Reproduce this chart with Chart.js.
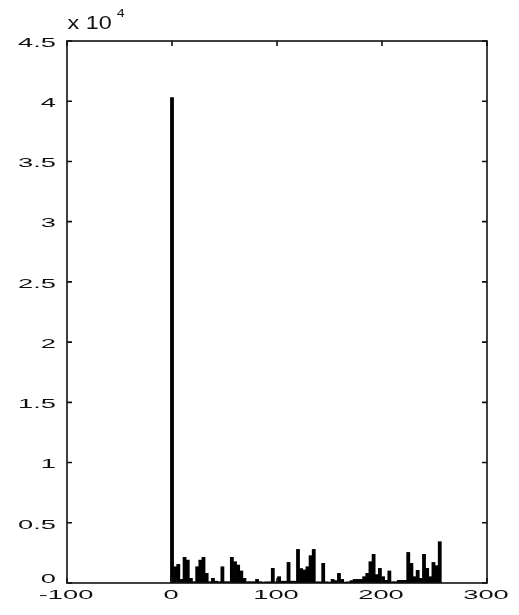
<!DOCTYPE html>
<html>
<head>
<meta charset="utf-8">
<script src="https://cdn.jsdelivr.net/npm/chart.js@4/dist/chart.umd.min.js"></script>
<style>
html,body{margin:0;padding:0;background:#fff;}
canvas{display:block;}
</style>
</head>
<body>
<canvas id="c" width="519" height="615"></canvas>
<script>
// Histogram bin positions (grey level)
const binCenters = [0,3,6,9,12,15,18,21,24,27,30,33,36,39,42,45,48,51,54,57,60,63,66,69,72,75,78,81,84,87,90,93,96,99,102,105,108,111,114,117,120,123,126,129,132,135,138,141,144,147,150,153,156,159,162,165,168,171,174,177,180,183,186,189,192,195,198,201,204,207,210,213,216,219,222,225,228,231,234,237,240,243,246,249,252,255];
// Counts per bin
const binCounts = [40300,1350,1550,300,2130,1900,390,110,1350,1900,2130,800,110,390,150,110,1350,110,110,2130,1770,1490,1000,390,110,110,110,300,110,80,100,100,1215,100,525,150,150,1710,150,150,2790,1200,1080,1350,2270,2790,100,100,1630,100,80,300,200,800,300,80,100,200,300,300,300,525,800,1770,2380,700,1215,525,220,1000,110,110,220,220,220,2540,1630,525,1050,390,2380,1215,525,1710,1440,3430];
// Axis ticks
const xTickValues = [-100,0,100,200,300];
const xTickLabels = ['-100','0','100','200','300'];
const yTickValues = [0,5000,10000,15000,20000,25000,30000,35000,40000,45000];
const yTickLabels = ['0','0.5','1','1.5','2','2.5','3','3.5','4','4.5'];
const exponentBase = 'x 10';
const exponentPower = '4';

const FONT = '"Liberation Sans", Arial, Helvetica, sans-serif';

function stretchText(ctx, text, x, y, size, sx, align) {
  ctx.save();
  ctx.font = size + 'px ' + FONT;
  ctx.textBaseline = 'alphabetic';
  ctx.textAlign = align;
  ctx.translate(x, y);
  ctx.scale(sx, 1);
  ctx.fillText(text, 0, 0);
  ctx.restore();
}

const matlabAxes = {
  id: 'matlabAxes',
  afterDatasetsDraw(chart) {
    const ctx = chart.ctx;
    const a = chart.chartArea;
    const xs = chart.scales.x, ys = chart.scales.y;
    ctx.save();
    ctx.strokeStyle = '#111';
    ctx.lineWidth = 1.6;
    ctx.strokeRect(a.left, a.top, a.right - a.left, a.bottom - a.top);
    const tl = 5;
    ctx.beginPath();
    xTickValues.forEach(v => {
      const px = xs.getPixelForValue(v);
      ctx.moveTo(px, a.bottom); ctx.lineTo(px, a.bottom - tl);
      ctx.moveTo(px, a.top); ctx.lineTo(px, a.top + tl);
    });
    yTickValues.forEach(v => {
      const py = ys.getPixelForValue(v);
      ctx.moveTo(a.left, py); ctx.lineTo(a.left + tl, py);
      ctx.moveTo(a.right, py); ctx.lineTo(a.right - tl, py);
    });
    ctx.stroke();
    ctx.fillStyle = '#111';
    xTickValues.forEach((v, i) => {
      const px = xs.getPixelForValue(v) - 1;
      stretchText(ctx, xTickLabels[i], px, a.bottom + 15.5, 13, 2.1, 'center');
    });
    yTickValues.forEach((v, i) => {
      const py = ys.getPixelForValue(v);
      const by = v === 0 ? py - 0.5 : py + 5.8;
      stretchText(ctx, yTickLabels[i], a.left - 11, by, 13, 2.1, 'right');
    });
    stretchText(ctx, exponentBase, a.left + 0.5, 29.3, 18, 1.3, 'left');
    ctx.save();
    ctx.font = '18px ' + FONT;
    const w = ctx.measureText(exponentBase).width * 1.3;
    ctx.restore();
    stretchText(ctx, exponentPower, a.left + 0.5 + w + 5, 16.7, 11, 1.3, 'left');
    ctx.restore();
  }
};

new Chart(document.getElementById('c'), {
  type: 'bar',
  data: {
    datasets: [{
      data: binCenters.map((x, i) => ({ x: x, y: binCounts[i] })),
      backgroundColor: '#000',
      borderWidth: 0,
      barPercentage: 1,
      categoryPercentage: 1
    }]
  },
  options: {
    responsive: false,
    animation: false,
    devicePixelRatio: 1,
    layout: { padding: { left: 67, right: 32, top: 41, bottom: 32 } },
    plugins: { legend: { display: false }, tooltip: { enabled: false } },
    scales: {
      x: { type: 'linear', display: false, min: -100, max: 300, offset: false },
      y: { type: 'linear', display: false, min: 0, max: 45000 }
    }
  },
  plugins: [matlabAxes, {
    id: 'bg',
    beforeDraw(chart) {
      const c = chart.ctx; c.save(); c.fillStyle = '#fff';
      c.fillRect(0, 0, chart.width, chart.height); c.restore();
    }
  }]
});
</script>
</body>
</html>
